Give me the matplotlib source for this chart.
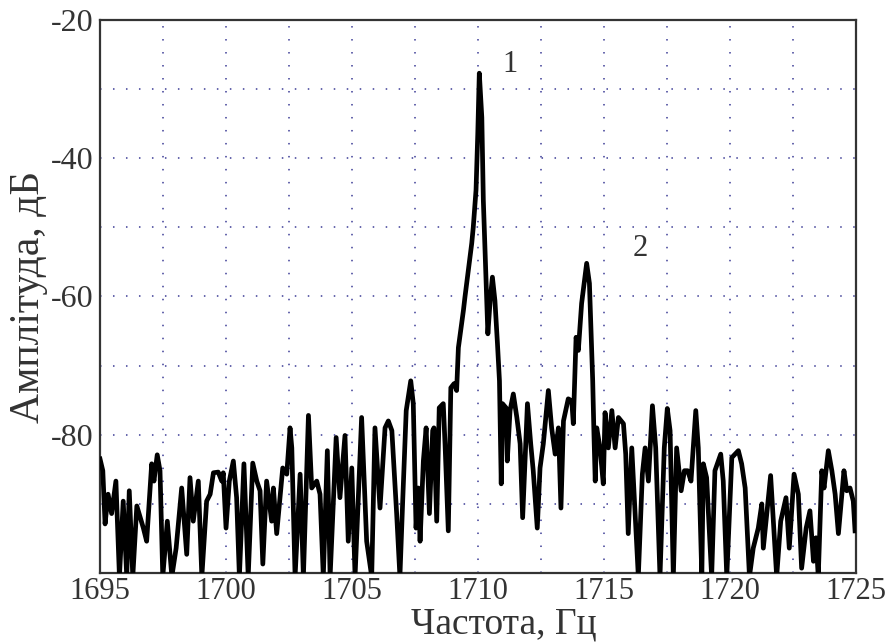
import numpy as np
import matplotlib
matplotlib.use("Agg")
import matplotlib.pyplot as plt

# spectrum (frequency in Hz, amplitude in dB)
freq = [
    1695.00, 1695.11, 1695.20, 1695.32, 1695.46, 1695.63, 1695.77, 1695.92, 1696.06, 1696.16,
    1696.30, 1696.46, 1696.72, 1696.85, 1697.05, 1697.14, 1697.27, 1697.38, 1697.49, 1697.67,
    1697.85, 1698.02, 1698.24, 1698.44, 1698.57, 1698.70, 1698.90, 1699.04, 1699.23, 1699.37,
    1699.50, 1699.69, 1699.83, 1699.89, 1700.00, 1700.13, 1700.29, 1700.42, 1700.53, 1700.71,
    1700.88, 1701.06, 1701.22, 1701.35, 1701.46, 1701.61, 1701.81, 1701.88, 1702.01, 1702.25,
    1702.41, 1702.54, 1702.61, 1702.74, 1702.94, 1703.07, 1703.27, 1703.40, 1703.60, 1703.73,
    1703.86, 1704.02, 1704.13, 1704.37, 1704.52, 1704.72, 1704.85, 1704.99, 1705.12, 1705.38,
    1705.58, 1705.78, 1705.91, 1706.11, 1706.31, 1706.44, 1706.58, 1706.77, 1706.90, 1707.01,
    1707.15, 1707.33, 1707.43, 1707.54, 1707.63, 1707.70, 1707.83, 1707.94, 1708.07, 1708.20,
    1708.25, 1708.36, 1708.46, 1708.62, 1708.69, 1708.82, 1708.92, 1709.05, 1709.15, 1709.22,
    1709.42, 1709.48, 1709.75, 1709.81, 1709.92, 1709.99, 1710.05, 1710.15, 1710.21, 1710.32,
    1710.39, 1710.48, 1710.57, 1710.67, 1710.77, 1710.85, 1710.92, 1710.97, 1711.11, 1711.16,
    1711.27, 1711.40, 1711.54, 1711.67, 1711.77, 1711.96, 1712.09, 1712.19, 1712.35, 1712.46,
    1712.59, 1712.79, 1712.92, 1713.06, 1713.19, 1713.29, 1713.39, 1713.58, 1713.72, 1713.78,
    1713.89, 1713.98, 1714.11, 1714.31, 1714.42, 1714.51, 1714.55, 1714.60, 1714.65, 1714.71,
    1714.84, 1714.97, 1715.04, 1715.17, 1715.31, 1715.44, 1715.57, 1715.77, 1715.86, 1715.96,
    1716.10, 1716.36, 1716.52, 1716.63, 1716.76, 1716.92, 1717.05, 1717.22, 1717.39, 1717.51,
    1717.62, 1717.75, 1717.88, 1718.06, 1718.19, 1718.32, 1718.45, 1718.64, 1718.74, 1718.88,
    1718.94, 1719.07, 1719.27, 1719.40, 1719.63, 1719.73, 1719.87, 1720.07, 1720.20, 1720.33,
    1720.46, 1720.60, 1720.77, 1720.92, 1721.12, 1721.26, 1721.32, 1721.46, 1721.61, 1721.72,
    1721.85, 1722.01, 1722.22, 1722.35, 1722.54, 1722.71, 1722.84, 1723.02, 1723.17, 1723.31,
    1723.41, 1723.50, 1723.64, 1723.73, 1723.90, 1724.04, 1724.17, 1724.30, 1724.52, 1724.63,
    1724.76, 1724.89, 1724.96,
]
amp = [
    -83.5, -85.2, -92.9, -88.6, -91.4, -86.7, -100.5, -89.6, -100.5, -88.1,
    -100.5, -90.3, -93.5, -95.4, -84.2, -86.7, -82.9, -85.2, -100.5, -92.5,
    -100.5, -96.4, -87.7, -97.3, -86.2, -92.5, -86.7, -100.5, -89.6, -88.6,
    -85.5, -85.4, -86.7, -85.5, -93.5, -86.7, -83.8, -89.1, -100.5, -84.2,
    -100.5, -84.1, -86.7, -88.1, -98.7, -86.7, -92.5, -87.7, -94.3, -84.8,
    -85.7, -79.0, -81.9, -100.5, -85.7, -100.5, -77.2, -87.7, -86.7, -88.6,
    -100.5, -82.3, -100.5, -80.4, -89.1, -80.1, -95.4, -84.8, -100.5, -77.5,
    -95.4, -100.5, -79.0, -90.6, -79.0, -78.0, -79.4, -91.4, -100.5, -89.6,
    -76.5, -72.2, -75.5, -93.5, -87.7, -95.4, -83.8, -79.0, -91.4, -79.4,
    -79.0, -92.5, -76.1, -75.5, -81.3, -93.9, -73.2, -72.6, -73.6, -67.4,
    -62.0, -60.1, -52.3, -50.0, -44.6, -36.4, -27.7, -34.1, -46.1, -58.1,
    -65.4, -60.6, -57.2, -60.6, -66.8, -72.2, -87.1, -75.5, -76.1, -83.8,
    -76.5, -74.1, -77.5, -81.3, -92.0, -75.5, -81.3, -85.2, -93.5, -84.8,
    -81.3, -73.6, -79.0, -82.8, -79.0, -90.6, -78.0, -74.8, -75.1, -78.4,
    -65.9, -67.8, -61.0, -55.2, -58.1, -67.8, -72.2, -80.0, -86.7, -79.0,
    -81.9, -87.1, -76.8, -81.9, -76.5, -81.9, -77.5, -78.4, -82.8, -94.3,
    -81.9, -100.5, -85.7, -81.9, -86.7, -75.8, -81.9, -100.5, -81.9, -76.2,
    -79.4, -100.5, -81.9, -88.1, -85.2, -85.2, -86.7, -76.5, -81.9, -100.5,
    -84.2, -86.2, -100.5, -85.2, -82.8, -86.7, -100.5, -83.3, -82.8, -82.3,
    -84.2, -87.7, -100.5, -96.4, -93.5, -90.0, -96.4, -91.4, -85.9, -92.5,
    -100.5, -92.5, -89.1, -96.4, -85.7, -88.6, -99.3, -93.5, -91.0, -98.3,
    -94.9, -100.5, -85.2, -87.7, -82.3, -85.2, -88.6, -94.3, -85.2, -88.1,
    -87.7, -89.6, -93.9,
]

x_ticks = [1695, 1700, 1705, 1710, 1715, 1720, 1725]
y_ticks = [-20, -40, -60, -80]
x_grid = [1697.5, 1700, 1702.5, 1705, 1707.5, 1710, 1712.5, 1715, 1717.5, 1720, 1722.5]
y_grid = [-30, -40, -50, -60, -70, -80, -90]

plt.rcParams['font.family'] = ['Liberation Serif', 'DejaVu Serif']
plt.rcParams['axes.unicode_minus'] = False

fig = plt.figure(figsize=(8.86, 6.44), dpi=100)
ax = fig.add_axes([0.1129, 0.1102, 0.8533, 0.8588])

for g in x_grid:
    ax.axvline(g, color='#3c3c96', lw=1.1, ls=(0, (1, 7.5)), zorder=1)
for g in y_grid:
    ax.axhline(g, color='#3c3c96', lw=1.1, ls=(0, (1, 7.5)), zorder=1)

ax.plot(freq, amp, color='black', lw=3.4, solid_joinstyle='round', zorder=3)

ax.set_xlim(1695, 1725)
ax.set_ylim(-100, -20)
ax.set_xticks(x_ticks)
ax.set_yticks(y_ticks)
ax.tick_params(axis='x', length=0, labelsize=22, colors='#333333', pad=3)
ax.tick_params(axis='y', length=0, labelsize=23, colors='#333333', pad=5)

for s in ax.spines.values():
    s.set_linewidth(1.6)
    s.set_color('#333333')

ax.set_xlabel('Частота, Гц', fontsize=27, color='#333333')
ax.xaxis.set_label_coords(0.534, -0.062)
ax.set_ylabel('Амплітуда, дБ', fontsize=30, color='#333333', labelpad=2)

ax.text(1711.27, -26.5, '1', fontsize=22, color='#333333', ha='center', va='center')
ax.text(1716.43, -53.0, '2', fontsize=22, color='#333333', ha='center', va='center')

fig.savefig('out.png', dpi=100)
